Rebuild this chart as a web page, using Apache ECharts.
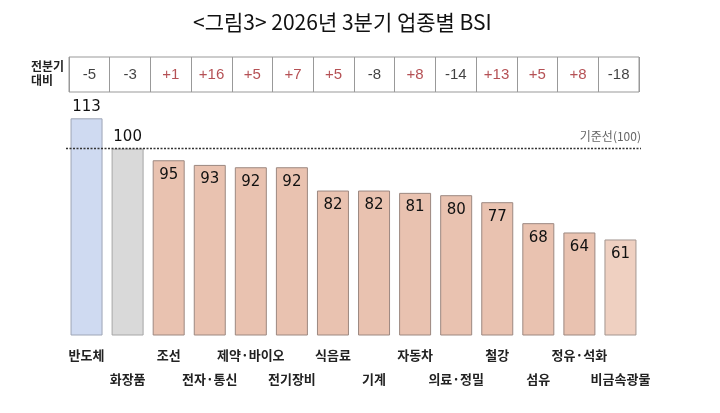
<!DOCTYPE html>
<html style="height: 100%">
<head>
  <meta charset="UTF-8">
  <title>2026년 3분기 업종별 BSI</title>
  <script src="https://cdnjs.cloudflare.com/ajax/libs/echarts/6.0.0/echarts.min.js"></script>
  <style>
    body { margin: 0; height: 100%; background: #fff; }
    #main { width: 720px; height: 413px; }
  </style>
</head>
<body>
  <div id="main"></div>
  <script>
    // 업종 (x축) / BSI 값 / 전분기 대비 증감
    const industries = ['반도체', '화장품', '조선', '전자·통신', '제약·바이오', '전기장비', '식음료',
      '기계', '자동차', '의료·정밀', '철강', '섬유', '정유·석화', '비금속광물'];
    const bsiValues = [113, 100, 95, 93, 92, 92, 82, 82, 81, 80, 77, 68, 64, 61];
    const qoqChanges = [-5, -3, 1, 16, 5, 7, 5, -8, 8, -14, 13, 5, 8, -18];
    const baseline = 100;

    const korFont = '"Noto Sans CJK KR", sans-serif';
    const numFont = '"DejaVu Sans", sans-serif';

    function barStyle(i) {
      if (i === 0) return { color: '#cfdaf1', borderColor: '#9ea6b6', borderWidth: 1 };
      if (i === 1) return { color: '#d9d9d9', borderColor: '#a6a6a6', borderWidth: 1 };
      if (i === industries.length - 1) return { color: '#efd0c1', borderColor: '#a39690', borderWidth: 1 };
      return { color: '#e9c2b0', borderColor: '#9c8880', borderWidth: 1 };
    }

    const myChart = echarts.init(document.getElementById('main'));

    const option = {
      animation: false,
      title: {
        text: '<그림3> 2026년 3분기 업종별 BSI',
        left: 188,
        top: 7,
        textStyle: { fontFamily: korFont, fontSize: 21, fontWeight: 'normal', color: '#111' }
      },
      graphic: [{
        type: 'text',
        left: 31,
        top: 59,
        style: {
          text: '전분기\n대비',
          font: 'bold 12px "Noto Sans CJK KR", sans-serif',
          fill: '#222',
          align: 'center',
          lineHeight: 14
        }
      }],
      grid: [
        { left: 66, right: 79, top: 102, bottom: 78 },
        { left: 69, right: 81, top: 57, height: 35, show: true, borderColor: '#999', borderWidth: 1 }
      ],
      xAxis: [
        {
          type: 'category',
          data: industries,
          gridIndex: 0,
          axisLine: { show: false },
          axisTick: { show: false },
          axisLabel: {
            interval: 0,
            margin: 8,
            lineHeight: 24,
            fontFamily: korFont,
            fontSize: 13,
            fontWeight: 'bold',
            color: '#222',
            formatter: (v, i) => (i % 2 ? '\n' + v : v)
          }
        },
        {
          type: 'category',
          data: industries,
          gridIndex: 1,
          axisLine: { show: false },
          axisTick: { show: false },
          axisLabel: { show: false },
          splitLine: { show: true, interval: 0, lineStyle: { color: '#999', width: 1 } }
        }
      ],
      yAxis: [
        { type: 'value', gridIndex: 0, min: 20, max: 120, show: false },
        { type: 'value', gridIndex: 1, min: 0, max: 1, show: false }
      ],
      series: [
        {
          type: 'bar',
          xAxisIndex: 0,
          yAxisIndex: 0,
          barWidth: 32,
          data: bsiValues.map((v, i) => ({
            value: v,
            itemStyle: barStyle(i),
            label: {
              position: v >= baseline ? 'top' : 'insideTop',
              distance: v >= baseline ? 4 : 7
            }
          })),
          label: {
            show: true,
            fontFamily: numFont,
            fontSize: 15,
            color: '#111'
          },
          markLine: {
            silent: true,
            symbol: 'none',
            lineStyle: { type: [2, 1.5], color: '#333', width: 1.3 },
            label: {
              show: true,
              position: 'insideEndTop',
              formatter: '기준선(100)',
              fontFamily: korFont,
              fontSize: 12,
              color: '#666',
              distance: [0, 6]
            },
            data: [{ yAxis: baseline }]
          }
        },
        {
          type: 'scatter',
          xAxisIndex: 1,
          yAxisIndex: 1,
          symbolSize: 0,
          data: qoqChanges.map((v, i) => ({
            value: [i, 0.5],
            label: { color: v > 0 ? '#a3262a' : '#111' }
          })),
          label: {
            show: true,
            position: 'inside',
            fontFamily: '"Liberation Sans", sans-serif',
            fontSize: 15,
            formatter: p => {
              const v = qoqChanges[p.dataIndex];
              return (v > 0 ? '+' : '') + v;
            }
          }
        }
      ]
    };

    myChart.setOption(option);
  </script>
</body>
</html>
